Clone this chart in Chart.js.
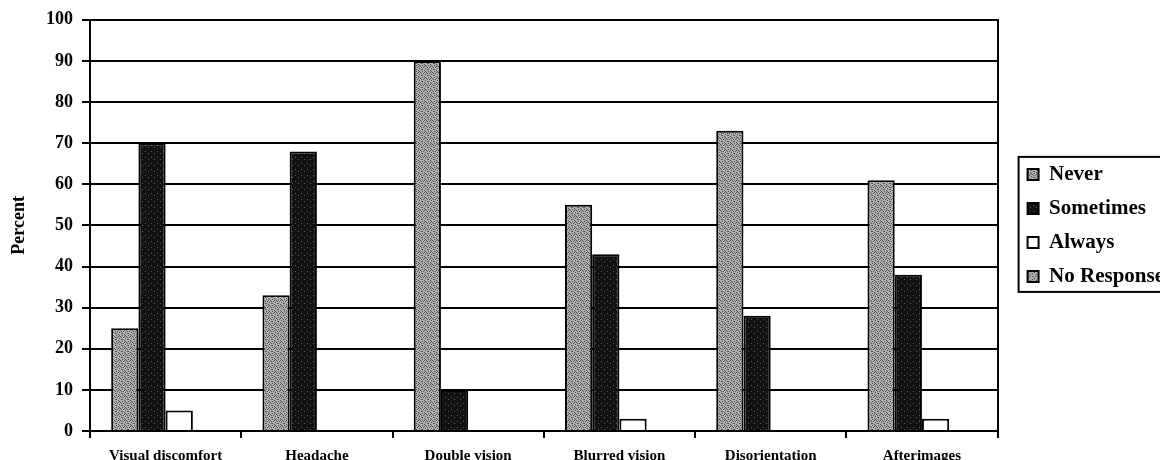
<!DOCTYPE html>
<html>
<head>
<meta charset="utf-8">
<title>Symptoms</title>
<script src="https://cdn.jsdelivr.net/npm/chart.js@4/dist/chart.umd.min.js"></script>
<style>
    html, body { margin: 0; padding: 0; background: #fff; }
    #wrap { width: 1160px; height: 460px; position: relative; }
</style>
</head>
<body>
<div id="wrap"><canvas id="chart"></canvas></div>
<script>
// Survey data (percent)
const categories = ['Visual discomfort', 'Headache', 'Double vision', 'Blurred vision', 'Disorientation', 'Afterimages'];
const never = [25, 33, 90, 55, 73, 61];
const sometimes = [70, 68, 10, 43, 28, 38];
const always = [5, 0, 0, 3, 0, 3];
const noResponse = [0, 0, 0, 0, 0, 0];
const yTicks = [0, 10, 20, 30, 40, 50, 60, 70, 80, 90, 100];

const SERIF = '"Liberation Serif", "Times New Roman", serif';

// small stipple tile so the grey bars look like the scanned halftone
function stipple(base, dot, cells) {
    const c = document.createElement('canvas');
    c.width = 6; c.height = 6;
    const g = c.getContext('2d');
    g.fillStyle = base;
    g.fillRect(0, 0, 6, 6);
    g.fillStyle = dot;
    cells.forEach(([x, y]) => g.fillRect(x, y, 1, 1));
    return g.createPattern(c, 'repeat');
}

const neverFill = stipple('#b0b0b0', '#505050', [[0, 0], [3, 1], [1, 3], [4, 4], [2, 5], [5, 2], [4, 0], [1, 1], [5, 5], [2, 3]]);
const sometimesFill = stipple('#111111', '#5a5a5a', [[1, 1], [4, 3]]);
const noRespFill = stipple('#a8a8a8', '#4a4a4a', [[0, 0], [2, 2], [4, 4], [3, 0], [0, 3]]);

// box around the legend, running off the right edge like the scan
const legendFrame = {
    id: 'legendFrame',
    afterDraw(chart) {
        const boxes = chart.legend && chart.legend.legendHitBoxes;
        if (!boxes || !boxes.length) return;
        const first = boxes[0], last = boxes[boxes.length - 1];
        const x = first.left - 9;
        const y = first.top - 7;
        const h = last.top + last.height + 5 - y;
        const ctx = chart.ctx;
        ctx.save();
        ctx.strokeStyle = '#000';
        ctx.lineWidth = 2;
        ctx.strokeRect(x, y, 300, h);
        ctx.restore();
    }
};

const bar = (label, data, fill) => ({
    label,
    data,
    backgroundColor: fill,
    borderColor: '#000',
    borderWidth: 2,
    categoryPercentage: 0.72,
    barPercentage: 1.0,
});

new Chart(document.getElementById('chart'), {
    type: 'bar',
    data: {
        labels: categories,
        datasets: [
            bar('Never', never, neverFill),
            bar('Sometimes', sometimes, sometimesFill),
            bar('Always', always, '#ffffff'),
            bar('No Response', noResponse, noRespFill),
        ]
    },
    options: {
        responsive: true,
        maintainAspectRatio: false,
        animation: false,
        layout: { padding: { top: 14, left: 0, right: -14, bottom: -14 } },
        plugins: {
            tooltip: { enabled: false },
            legend: {
                position: 'right',
                fullSize: false,
                labels: {
                    color: '#000',
                    font: { family: SERIF, size: 21, weight: 'bold' },
                    boxWidth: 11,
                    boxHeight: 11,
                    padding: 13,
                }
            }
        },
        scales: {
            x: {
                grid: { drawOnChartArea: false, offset: true, color: '#000', lineWidth: 2, tickLength: 7 },
                border: { color: '#000', width: 2 },
                ticks: {
                    color: '#000',
                    padding: 9,
                    maxRotation: 0,
                    font: { family: SERIF, size: 15, weight: 'bold' }
                }
            },
            y: {
                min: 0,
                max: 100,
                afterFit: (s) => { s.width = 90; },
                afterBuildTicks: (s) => { s.ticks = yTicks.map(v => ({ value: v })); },
                grid: { color: '#000', lineWidth: 2, tickLength: 8 },
                border: { color: '#000', width: 2 },
                ticks: {
                    color: '#000',
                    padding: 9,
                    font: { family: SERIF, size: 18, weight: 'bold' }
                },
                title: {
                    display: true,
                    text: 'Percent',
                    color: '#000',
                    padding: { top: 9, bottom: 0 },
                    font: { family: SERIF, size: 18, weight: 'bold' }
                }
            },
            edge: {
                type: 'linear',
                position: 'right',
                afterFit: (s) => { s.width = 17; },
                grid: { drawOnChartArea: false, drawTicks: false },
                border: { color: '#000', width: 2 },
                ticks: { display: false }
            }
        }
    },
    plugins: [legendFrame]
});
</script>
</body>
</html>
